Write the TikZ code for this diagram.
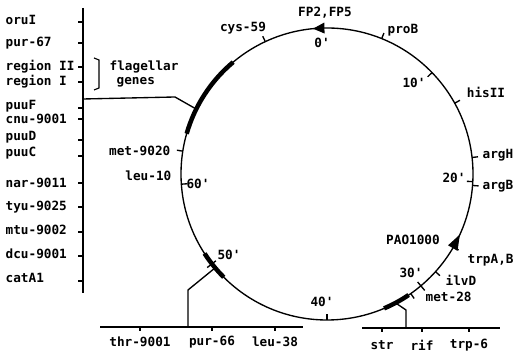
\documentclass[tikz,border=0pt]{standalone}
\usepackage{fontspec}
\setmonofont{DejaVu Sans Mono}
\usepackage{tikz}
\usetikzlibrary{arrows.meta, positioning}

\begin{document}
\begin{tikzpicture}[x=1pt, y=1pt, line width=1.35pt,
  lbl/.style={font=\ttfamily\bfseries\fontsize{12.7}{15}\selectfont, inner sep=0pt},
  band/.style={line width=4.5pt}]
  \useasboundingbox (0,0) rectangle (515,352);
  %% Left column of markers
  \coordinate (ltop) at (83,344);
  \coordinate (lbot) at (83,59);
  \draw (ltop) -- (lbot);
  \foreach \ly/\ty/\lbl [count=\i] in {332/330/oruI, 309/309/pur-67,
      285/285/region II, 270/270/region I, 246/244/puuF, 233/233/cnu-9001,
      215/212/puuD, 199/196/puuC, 169/169/nar-9011, 145/145/tyu-9025,
      122/120/mtu-9002, 98/96/dcu-9001, 74/71/catA1}{
    \node[lbl,anchor=west] (left\i) at (5,\ly) {\lbl};
    \draw (78,\ty) -- (83,\ty);
  }
  %% bracket for the flagellar genes
  \draw[line width=1.1pt] (94,294) -- (99,292) -- (99,264) -- (94,262);
  \node[lbl,anchor=west] (flag) at (109,285) {flagellar};
  \node[lbl,anchor=west] (genes) at (116,270) {genes};

  %% The chromosome
  \coordinate (c) at (327,178);
  \draw (c) circle (146);
  \begin{scope}[shift={(c)}]
    % marker ticks, outside
    \foreach \a in {115,68,29,6.5,-4.5,-30,-42,-55,171}
      \draw (\a:146) -- (\a:152);
    % minute ticks, inside
    \foreach \a in {44,-3,-90,184}
      \draw (\a:146) -- (\a:140);
    \foreach \a in {-50,218}
      \draw (\a:141) -- (\a:152);
    % mapped regions
    \draw[band] (130:146) arc (130:164:146);
    \draw[band] (-56:146) arc (-56:-67:146);
    \draw[band] (213:146) arc (213:225:146);
    % origins of transfer
    \fill (95.5:146) -- (91:140.5) -- (91:151.5) -- cycle;
    \fill (-24.5:146) -- (-30.5:140.5) -- (-30.5:151.5) -- cycle;
    \coordinate (flagarc) at (153.6:146);
    \coordinate (purarc) at (220:146);
    \coordinate (rifarc) at (-62:146);
  \end{scope}
  \foreach \nm/\x/\y/\anc/\lbl in {fp/325/339/center/{FP2,FP5}, zero/322/309/center/0',
      proB/387/322/west/proB, cys/243/324/center/cys-59, ten/414/269/center/10',
      his/486/260/center/hisII, argH/482/197/west/argH, argB/482/166/west/argB,
      twenty/454/174/center/20', pao/413/112/center/PAO1000,
      trp/467/92/west/{trpA,B}, ilv/445/72/west/ilvD, thirty/411/79/center/30',
      met28/425/55/west/met-28, forty/322/50/center/40', fifty/229/97/center/50',
      sixty/198/168/center/60', met9020/171/201/east/met-9020,
      leu10/172/176/east/leu-10}{
    \node[lbl,anchor=\anc] (\nm) at (\x,\y) {\lbl};
  }

  %% Bottom left segment
  \coordinate (blA) at (100,25);
  \coordinate (blB) at (303,25);
  \draw (blA) -- (blB);
  \foreach \cx/\lbl [count=\i] in {140/thr-9001, 212/pur-66, 275/leu-38}{
    \draw (\cx,25) -- (\cx,21);
    \node[lbl] (bl\i) at (\cx,10) {\lbl};
  }
  %% Bottom right segment
  \coordinate (brA) at (362,24);
  \coordinate (brB) at (500,24);
  \draw (brA) -- (brB);
  \foreach \cx/\lbl [count=\i] in {382/str, 422/rif, 469/trp-6}{
    \draw (\cx,24) -- (\cx,20);
    \node[lbl] (br\i) at (\cx,7) {\lbl};
  }

  %% Connectors
  \coordinate (flagaxis) at (83,253);
  \coordinate (flagbend) at (175,255);
  \draw (flagaxis) -- (flagbend) -- (flagarc);
  \coordinate (puraxis) at (188,25);
  \coordinate (purbend) at (188,62);
  \draw (puraxis) -- (purbend) -- (purarc);
  \coordinate (rifaxis) at (406,24);
  \coordinate (rifbend) at (406,42);
  \draw (rifaxis) -- (rifbend) -- (rifarc);
\end{tikzpicture}
\end{document}
